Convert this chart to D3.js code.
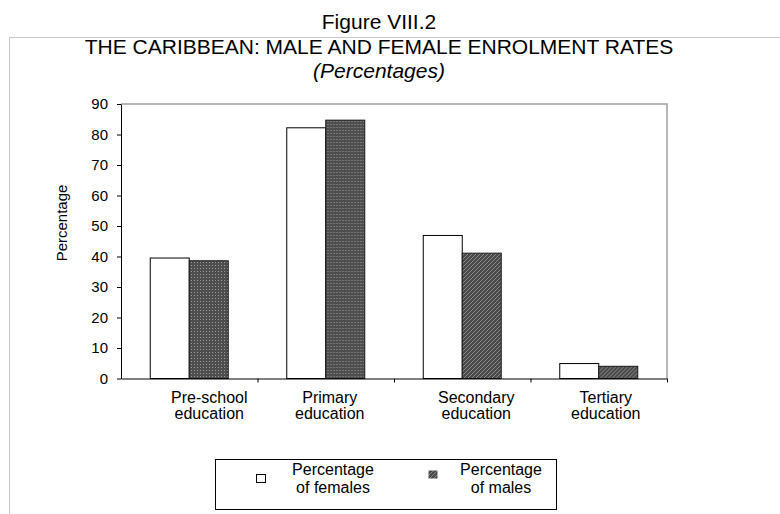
<!DOCTYPE html>
<html>
<head>
<meta charset="utf-8">
<script src="https://cdn.jsdelivr.net/npm/d3@7"></script>
<style>
  body { margin: 0; background: #fff; }
  svg { display: block; font-family: "Liberation Sans", Arial, sans-serif; }
</style>
</head>
<body>
<svg id="chart" width="780" height="514"></svg>
<script>
// data
const categories = ["Pre-school education", "Primary education", "Secondary education", "Tertiary education"]
const females = [39.5, 82.2, 46.9, 4.9]
const males = [38.6, 84.7, 41.1, 4.0]
const yTicks = [0, 10, 20, 30, 40, 50, 60, 70, 80, 90]
const legendLabels = ["Percentage of females", "Percentage of males"]

// layout / style only
const labelShift = [20, 4, 14, 7]
const maleFill = ["dots", "dots", "hatch", "hatch"]

let width = 780,
  height = 514,
  plot = {left: 121, right: 667, top: 104, bottom: 378.5},
  svg = d3.select("#chart")

let x = d3.scaleBand()
  .domain(categories)
  .range([plot.left, plot.right])

let xSub = d3.scaleBand()
  .domain(["f", "m"])
  .range([0, x.bandwidth()])
  .paddingOuter(0.75)

let y = d3.scaleLinear()
  .domain([0, 90])
  .range([plot.bottom, plot.top])

// fill patterns for the male bars
let defs = svg.append("defs")
let dots = defs.append("pattern")
  .attr("id", "dots")
  .attr("patternUnits", "userSpaceOnUse")
  .attr("width", 3).attr("height", 3)
dots.append("rect").attr("width", 3).attr("height", 3).attr("fill", "#4e4e4e")
dots.append("rect").attr("x", 1).attr("y", 1).attr("width", 1).attr("height", 1).attr("fill", "#9c9c9c")

let hatch = defs.append("pattern")
  .attr("id", "hatch")
  .attr("patternUnits", "userSpaceOnUse")
  .attr("width", 4).attr("height", 4)
hatch.append("rect").attr("width", 4).attr("height", 4).attr("fill", "#4a4a4a")
hatch.append("path").attr("d", "M0,4 L4,0 M-1,1 L1,-1 M3,5 L5,3")
  .attr("stroke", "#9a9a9a").attr("stroke-width", 0.8)

// outer light frame
svg.append("path")
  .attr("d", `M${width},37.5 H9.5 V${height}`)
  .attr("fill", "none")
  .attr("stroke", "#c8c8c8")

// titles
let titles = [
  {text: "Figure VIII.2", y: 29, style: "normal"},
  {text: "THE CARIBBEAN: MALE AND FEMALE ENROLMENT RATES", y: 54, style: "normal"},
  {text: "(Percentages)", y: 78, style: "italic"}
]
svg.append("g").selectAll("text")
  .data(titles).enter()
  .append("text")
  .attr("x", 379)
  .attr("y", d => d.y)
  .attr("text-anchor", "middle")
  .attr("font-size", 21)
  .attr("font-style", d => d.style)
  .text(d => d.text)

// top and right border of plot
svg.append("path")
  .attr("d", `M${plot.left},${plot.top} H${plot.right} V${plot.bottom}`)
  .attr("fill", "none")
  .attr("stroke", "#a0a0a0")
  .attr("stroke-width", 1.5)

// bars
let groups = svg.append("g").selectAll("g")
  .data(categories).enter()
  .append("g")
  .attr("transform", d => `translate(${x(d)},0)`)

groups.append("rect")
  .attr("x", d => xSub("f"))
  .attr("y", (d, i) => y(females[i]))
  .attr("width", xSub.bandwidth())
  .attr("height", (d, i) => y(0) - y(females[i]))
  .attr("fill", "#fff")
  .attr("stroke", "#000")

groups.append("rect")
  .attr("x", d => xSub("m"))
  .attr("y", (d, i) => y(males[i]))
  .attr("width", xSub.bandwidth())
  .attr("height", (d, i) => y(0) - y(males[i]))
  .attr("fill", (d, i) => `url(#${maleFill[i]})`)
  .attr("stroke", "#1a1a1a")

// y axis
let yAxis = svg.append("g")
  .attr("transform", `translate(${plot.left},0)`)
  .call(d3.axisLeft(y).tickValues(yTicks).tickSize(4).tickSizeOuter(0).tickPadding(9))
yAxis.selectAll("text").attr("font-size", 15).attr("font-family", null).attr("fill", "#000")
yAxis.selectAll("line, path").attr("stroke", "#000")

// x axis with ticks between categories
let xEdge = d3.scaleLinear().domain([0, categories.length]).range([plot.left, plot.right])
let xAxis = svg.append("g")
  .attr("transform", `translate(0,${plot.bottom})`)
  .call(d3.axisBottom(xEdge).tickValues(d3.range(1, categories.length + 1)).tickFormat("").tickSize(4).tickSizeOuter(0))
xAxis.selectAll("line, path").attr("stroke", "#000")

// category labels, two lines
svg.append("g").selectAll("text")
  .data(categories).enter()
  .append("text")
  .attr("text-anchor", "middle")
  .attr("font-size", 16)
  .attr("transform", (d, i) => `translate(${x(d) + x.bandwidth() / 2 + labelShift[i]},403)`)
  .selectAll("tspan")
  .data(d => d.split(" ")).enter()
  .append("tspan")
  .attr("x", 0)
  .attr("y", (d, j) => j * 16)
  .text(d => d)

// y axis title
svg.append("text")
  .attr("transform", "translate(67,223) rotate(-90)")
  .attr("text-anchor", "middle")
  .attr("font-size", 15)
  .text("Percentage")

// legend
svg.append("rect")
  .attr("x", 215.5).attr("y", 459.5)
  .attr("width", 341).attr("height", 50)
  .attr("fill", "#fff")
  .attr("stroke", "#000")

let legend = [
  {label: legendLabels[0], sx: 256.5, sy: 474.5, tx: 333, fill: "#fff"},
  {label: legendLabels[1], sx: 428.5, sy: 470.5, tx: 501, fill: "url(#hatch)"}
]
let items = svg.append("g").selectAll("g")
  .data(legend).enter()
  .append("g")

items.append("rect")
  .attr("x", d => d.sx).attr("y", d => d.sy)
  .attr("width", 9).attr("height", 8)
  .attr("fill", d => d.fill)
  .attr("stroke", (d, i) => i == 0 ? "#000" : "none")

items.append("text")
  .attr("text-anchor", "middle")
  .attr("font-size", 16)
  .attr("transform", d => `translate(${d.tx},475)`)
  .selectAll("tspan")
  .data(d => {
    let k = d.label.indexOf(" ")
    return [d.label.slice(0, k), d.label.slice(k + 1)]
  }).enter()
  .append("tspan")
  .attr("x", 0)
  .attr("y", (d, j) => j * 18)
  .text(d => d)
</script>
</body>
</html>
